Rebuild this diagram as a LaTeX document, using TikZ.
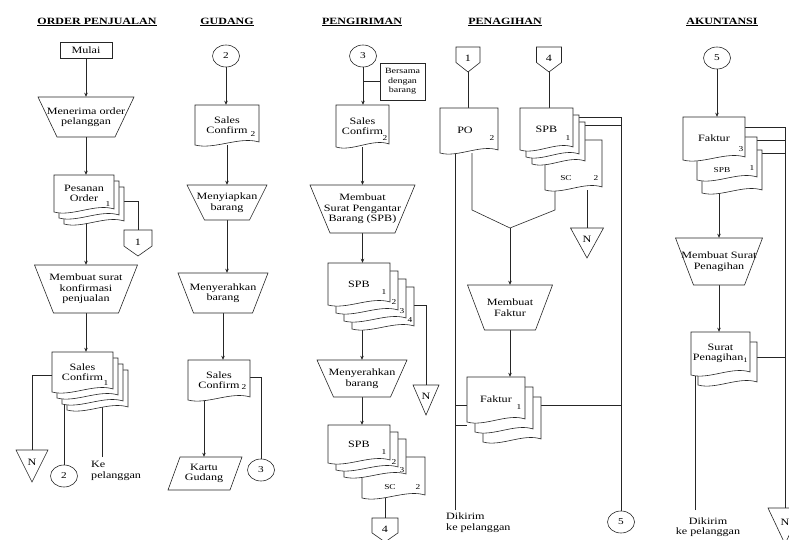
\documentclass[tikz,border=0pt]{standalone}
\usepackage{fontspec}
\setmainfont{Liberation Serif}[FakeStretch=1.25]
\usetikzlibrary{arrows.meta,shapes.geometric}
\pgfdeclarelayer{bg}
\pgfsetlayers{bg,main}
% document outline (cx, cy, w, h) in reference pixels, y downward
\newcommand\dcopy[4]{\draw[ln,fill=white] ({#1-#3/2},{#2-#4/2}) -- ({#1+#3/2},{#2-#4/2}) -- ({#1+#3/2},{#2+#4/2-3}) .. controls ({#1+#3/5},{#2+#4/2-9}) and ({#1-#3/5},{#2+#4/2+5}) .. ({#1-#3/2},{#2+#4/2}) -- cycle;}
\newcommand\dnode[6]{\dcopy{#2}{#3}{#4}{#5}\node[txt,minimum width=#4,minimum height=#5] (#1) at (#2,#3) {#6};}
% trapezoid: name cx cy topw botw h text
\newcommand\trapz[7]{\draw[ln,fill=white] ({#2-#4/2},{#3-#6/2}) -- ({#2+#4/2},{#3-#6/2}) -- ({#2+#5/2},{#3+#6/2}) -- ({#2-#5/2},{#3+#6/2}) -- cycle;\node[txt,minimum width=#4,minimum height=#6] (#1) at (#2,#3) {#7};}
% off-page connector: name cx top w h text
\newcommand\offpg[6]{\draw[ln,fill=white] ({#2-#4/2},#3) -- ({#2+#4/2},#3) -- ({#2+#4/2},{#3+0.62*#5}) -- (#2,{#3+#5}) -- ({#2-#4/2},{#3+0.62*#5}) -- cycle;\node[txt,minimum width=#4,minimum height=#5] (#1) at (#2,{#3+#5/2}) {\raisebox{2pt}{#6}};}
% file triangle: name cx top w h
\newcommand\tri[5]{\draw[ln,fill=white] ({#2-#4/2},#3) -- ({#2+#4/2},#3) -- (#2,{#3+#5}) -- cycle;\node[txt,minimum width=#4,minimum height=#5] (#1) at (#2,{#3+#5/2}) {\raisebox{7pt}{N}};}
\begin{document}
\begin{tikzpicture}[x=1pt,y=-1pt,
  ln/.style={draw=black!85,line width=0.6pt},
  txt/.style={font=\fontsize{9.7}{10.6}\selectfont,align=center,inner sep=0pt},
  sm/.style={font=\fontsize{7.5}{8}\selectfont,inner sep=0pt},
  hd/.style={font=\bfseries\fontsize{9.6}{10}\selectfont,inner sep=0pt},
  arr/.style={ln,-{Stealth[length=4pt,width=3.5pt]}},
  con/.style={ln},
  circ/.style={ellipse,ln,fill=white,minimum width=27,minimum height=22,inner sep=0pt,font=\fontsize{9}{10}\selectfont}]
\useasboundingbox (0,0) rectangle (789,540);

% ---------------- ORDER PENJUALAN
\node[hd] (h1) at (97,22) {\underline{ORDER PENJUALAN}};
\node[ln,txt,fill=white,minimum width=52,minimum height=16] (mulai) at (86,50) {Mulai};
\trapz{t1}{86}{117}{96}{58}{40}{Menerima order\\pelanggan}
\dcopy{94}{205.5}{60}{37}
\dcopy{89}{199.5}{60}{37}
\dnode{po1}{84}{193.5}{60}{37}{Pesanan\\Order}
\node[sm] (po1a) at (108,204) {1};
\offpg{o1}{138}{230}{28}{26}{1}
\trapz{t2}{86}{289}{103}{65}{48}{Membuat surat\\konfirmasi\\penjualan}
\dcopy{97.5}{390}{61}{40}
\dcopy{92.5}{384}{61}{40}
\dcopy{87.5}{378}{61}{40}
\dnode{sc1}{82.5}{372}{61}{40}{Sales\\Confirm}
\node[sm] (sc1a) at (106,383) {1};
\tri{n1}{32}{450}{32}{32}
\node[circ] (c1) at (64,476) {2};
\coordinate (kpe) at (102,457);
\node[txt,align=left,anchor=north west] (kp) at (91,461) {Ke\\pelanggan};

% ---------------- GUDANG
\node[hd] (h2) at (227,22) {\underline{GUDANG}};
\node[circ] (c2b) at (226,56) {2};
\dnode{sc2}{227}{125}{64}{40}{Sales\\Confirm}
\node[sm] (sc2a) at (253,134) {2};
\trapz{t3}{227}{202.5}{80}{45}{35}{Menyiapkan\\barang}
\trapz{t4}{223}{293}{90}{59}{40}{Menyerahkan\\barang}
\dnode{sc2b}{219}{380}{62}{40}{Sales\\Confirm}
\node[sm] (sc2c) at (244,387) {2};
\node[circ] (c3b) at (261,470) {3};
\draw[ln,fill=white] (180,457) -- (242,457) -- (230,490) -- (168,490) -- cycle;
\node[txt,minimum width=50,minimum height=33] (kg) at (204,473.5) {Kartu\\Gudang};

% ---------------- PENGIRIMAN
\node[hd] (h3) at (362,22) {\underline{PENGIRIMAN}};
\node[circ] (c3) at (363,56) {3};
\node[ln,txt,font=\fontsize{8}{9.5}\selectfont,minimum width=45,minimum height=37,fill=white] (nt) at (402.5,81.5) {Bersama\\dengan\\barang};
\dnode{sc3}{362.5}{126}{53}{42}{Sales\\Confirm}
\node[sm] (sc3a) at (385,138) {2};
\trapz{t5}{362.5}{209}{105}{65}{48}{Membuat\\Surat Pengantar\\Barang (SPB)}
\dcopy{383}{308}{62}{42}
\dcopy{375}{300}{62}{42}
\dcopy{367}{292}{62}{42}
\dnode{spb1}{359}{284}{62}{42}{SPB}
\node[sm] (spb1a) at (384,292) {1};
\node[sm] (spb1b) at (394,302) {2};
\node[sm] (spb1c) at (402,311) {3};
\node[sm] (spb1d) at (410,320) {4};
\tri{n2}{426}{385}{26}{30}
\trapz{t6}{362}{378.5}{90}{57}{37}{Menyerahkan\\barang}
\dnode{scB}{393.5}{477.5}{63}{41}{}
\dcopy{375}{458}{62}{38}
\dcopy{367}{451}{62}{38}
\dnode{spb2}{359}{444}{62}{38}{SPB}
\node[sm] (spb2a) at (384,452) {1};
\node[sm] (spb2b) at (394,462) {2};
\node[sm] (spb2c) at (402,470) {3};
\node[sm] (scBa) at (390,487) {SC};
\node[sm] (scBb) at (418,487) {2};
\offpg{o4b}{385}{518}{26}{24}{4}

% ---------------- PENAGIHAN
\node[hd] (h4) at (505,22) {\underline{PENAGIHAN}};
\offpg{o1b}{468}{47}{24}{25}{1}
\offpg{o4}{549}{47}{25}{25}{4}
\dnode{po}{469}{130.5}{58}{45}{PO\hspace{8pt}}
\node[sm] (poa) at (492,138) {2};
\dnode{scC}{573.5}{165}{57}{50}{}
\dcopy{558.5}{143}{53}{42}
\dcopy{552.5}{136}{53}{42}
\dnode{spb3}{546.5}{129}{53}{42}{SPB}
\node[sm] (spb3a) at (568,138) {1};
\node[sm] (scCa) at (566,178) {SC};
\node[sm] (scCb) at (596,178) {2};
\tri{n3}{587}{228}{33}{30}
\coordinate (mg) at (510,228);
\coordinate (m1) at (472,210);
\coordinate (m2) at (555,210);
\trapz{t7}{510}{307.5}{85}{51}{45}{Membuat\\Faktur}
\dcopy{512}{419.5}{58}{45}
\dcopy{504}{409.5}{58}{45}
\dnode{fk}{496}{399.5}{58}{45}{Faktur}
\node[sm] (fka) at (519,407) {1};
\coordinate (dk1) at (455,510);
\node[txt,align=left,anchor=north west] (dka) at (446,513) {Dikirim\\ke pelanggan};
\node[circ] (c5b) at (621,522) {5};

% ---------------- AKUNTANSI
\node[hd] (h5) at (722,22) {\underline{AKUNTANSI}};
\node[circ] (c5) at (717,58) {5};
\dcopy{732}{171.5}{60}{43}
\dcopy{727}{158.5}{60}{43}
\dnode{fa}{714}{138.5}{62}{43}{Faktur}
\node[sm] (faa) at (741,149) {3};
\node[sm] (fab) at (722,170) {SPB};
\node[sm] (fac) at (752,168) {1};
\trapz{t8}{719}{261.5}{87}{51}{47}{Membuat Surat\\Penagihan}
\dcopy{727.5}{363.5}{59}{43}
\dnode{sp}{720.5}{353.5}{59}{43}{Surat\\Penagihan\textsubscript{1}}
\coordinate (dk2) at (695,510);
\node[txt] (dkb) at (708,527) {Dikirim\\ke pelanggan};
\tri{n5}{785}{508}{34}{36}

% ---------------- connectors
\begin{pgfonlayer}{bg}
\draw[arr] (mulai.south) -- (t1.north);
\draw[arr] (t1.south) -- (t1.south |- po1.north);
\draw[arr] (t2.north |- po1.south) -- (t2.north);
\draw[con] ([yshift=-8pt]po1.east) -| (o1.north);
\draw[arr] (t2.south) -- (t2.south |- sc1.north);
\draw[con] ([yshift=-3pt]sc1.west) -| (n1.north);
\draw[con] (c1.north) -- (c1.north |- sc1.south);
\draw[con] (kpe) -- (kpe |- sc1.south);

\draw[arr] (c2b.south) -- (c2b.south |- sc2.north);
\draw[arr] (t3.north |- sc2.south) -- (t3.north);
\draw[arr] (t3.south) -- (t3.south |- t4.north);
\draw[arr] (t4.south) -- (t4.south |- sc2b.north);
\draw[con] ([yshift=3pt]sc2b.east) -| (c3b.north);
\draw[arr] (kg.north |- sc2b.south) -- (kg.north);

\draw[con] (nt.west) -- (nt.west -| c3.south);
\draw[arr] (c3.south) -- (c3.south |- sc3.north);
\draw[arr] (t5.north |- sc3.south) -- (t5.north);
\draw[arr] (t5.south) -- (t5.south |- spb1.north);
\draw[con] ([yshift=-21pt]spb1.east) -| (n2.north);
\draw[arr] (t6.north |- spb1.south) -- (t6.north);
\draw[arr] (t6.south) -- (t6.south |- spb2.north);
\draw[con] (o4b.north) -- (o4b.north |- scB.south);

\draw[con] (o1b.south) -- (o1b.south |- po.north);
\draw[con] (o4.south) -- (o4.south |- spb3.north);
\draw[con] (m1 |- po.south) -- (m1) -- (mg) -- (m2) -- (m2 |- scC.south);
\draw[arr] (mg) -- (t7.north);
\draw[con] (dk1) -- (dk1 |- po.south);
\draw[con] (n3.north) -- (n3.north |- scC.south);
\draw[con] ([yshift=12pt]spb3.east) -| (c5b.north);
\draw[con] ([yshift=4pt]spb3.east) -- ([yshift=4pt]spb3.east -| c5b.north);
\draw[arr] (t7.south) -- (t7.south |- fk.north);
\draw[con] ([yshift=-5.5pt]fk.east) -- ([yshift=-5.5pt]fk.east -| c5b.north);
\draw[con] ([yshift=-5.5pt]fk.west) -- ([yshift=-5.5pt]fk.west -| dk1);
\draw[con] ([yshift=-25.5pt]fk.west) -- ([yshift=-25.5pt]fk.west -| dk1);

\draw[arr] (c5.south) -- (c5.south |- fa.north);
\draw[con] ([yshift=11.5pt]fa.east) -| (n5.north);
\draw[con] ([yshift=-1.5pt]fa.east) -- ([yshift=-1.5pt]fa.east -| n5.north);
\draw[con] ([yshift=-14.5pt]fa.east) -- ([yshift=-14.5pt]fa.east -| n5.north);
\draw[arr] (t8.north |- fa.south) -- (t8.north);
\draw[arr] (t8.south) -- (t8.south |- sp.north);
\draw[con] ([yshift=-3.5pt]sp.east) -- ([yshift=-3.5pt]sp.east -| n5.north);
\draw[con] (dk2) -- (dk2 |- sp.south);
\end{pgfonlayer}
\end{tikzpicture}
\end{document}
